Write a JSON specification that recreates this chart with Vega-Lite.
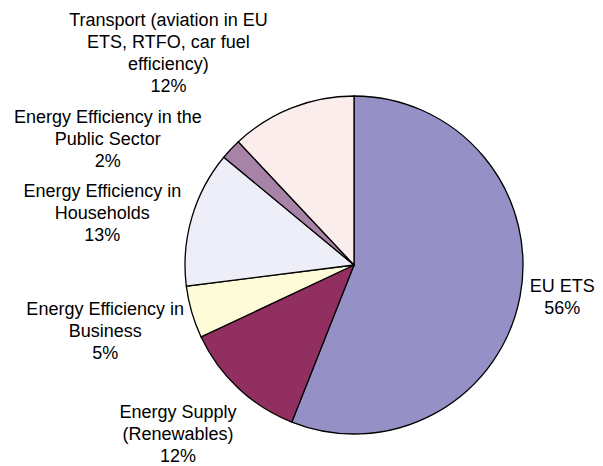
{
  "$schema": "https://vega.github.io/schema/vega-lite/v6.json",
  "width": 400,
  "height": 400,
  "autosize": {"type": "none"},
  "padding": {"left": 154, "top": 65, "right": 49, "bottom": 1},
  "background": "white",
  "view": {"stroke": null},
  "config": {"text": {"font": "Liberation Sans", "fontSize": 18, "lineHeight": 22, "lineBreak": "\n", "align": "center", "baseline": "middle", "color": "black"}},
  "data": {
    "values": [
      {"k": 1, "cat": "EU ETS", "pct": 56, "label": "EU ETS\n56%"},
      {"k": 2, "cat": "Energy Supply (Renewables)", "pct": 12, "label": "Energy Supply\n(Renewables)\n12%"},
      {"k": 3, "cat": "Energy Efficiency in Business", "pct": 5, "label": "Energy Efficiency in\nBusiness\n5%"},
      {"k": 4, "cat": "Energy Efficiency in Households", "pct": 13, "label": "Energy Efficiency in\nHouseholds\n13%"},
      {"k": 5, "cat": "Energy Efficiency in the Public Sector", "pct": 2, "label": "Energy Efficiency in the\nPublic Sector\n2%"},
      {"k": 6, "cat": "Transport (aviation in EU ETS, RTFO, car fuel efficiency)", "pct": 12, "label": "Transport (aviation in EU\nETS, RTFO, car fuel\nefficiency)\n12%"}
    ]
  },
  "encoding": {
    "theta": {"field": "pct", "type": "quantitative", "stack": true},
    "order": {"field": "k", "type": "quantitative"}
  },
  "layer": [
    {
      "mark": {"type": "arc", "radius": 169, "stroke": "black", "strokeWidth": 1.3},
      "encoding": {
        "color": {
          "field": "cat",
          "type": "nominal",
          "legend": null,
          "scale": {
            "domain": ["EU ETS", "Energy Supply (Renewables)", "Energy Efficiency in Business", "Energy Efficiency in Households", "Energy Efficiency in the Public Sector", "Transport (aviation in EU ETS, RTFO, car fuel efficiency)"],
            "range": ["#9591C7", "#913060", "#FEFCD8", "#EEEEF8", "#A784A7", "#FCEDED"]
          }
        }
      }
    },
    {
      "mark": {"type": "text", "radius": 212, "dy": -18},
      "encoding": {"text": {"condition": {"test": "datum.k == 1", "field": "label", "type": "nominal"}, "value": ""}}
    },
    {
      "mark": {"type": "text", "radius": 244, "dx": -9, "dy": -30},
      "encoding": {"text": {"condition": {"test": "datum.k == 2", "field": "label", "type": "nominal"}, "value": ""}}
    },
    {
      "mark": {"type": "text", "radius": 258, "dx": -1, "dy": -27},
      "encoding": {"text": {"condition": {"test": "datum.k == 3", "field": "label", "type": "nominal"}, "value": ""}}
    },
    {
      "mark": {"type": "text", "radius": 260, "dx": -2, "dy": 0},
      "encoding": {"text": {"condition": {"test": "datum.k == 4", "field": "label", "type": "nominal"}, "value": ""}}
    },
    {
      "mark": {"type": "text", "radius": 265, "dx": -53, "dy": 34},
      "encoding": {"text": {"condition": {"test": "datum.k == 5", "field": "label", "type": "nominal"}, "value": ""}}
    },
    {
      "mark": {"type": "text", "radius": 265, "dx": -88, "dy": 2},
      "encoding": {"text": {"condition": {"test": "datum.k == 6", "field": "label", "type": "nominal"}, "value": ""}}
    }
  ]
}
